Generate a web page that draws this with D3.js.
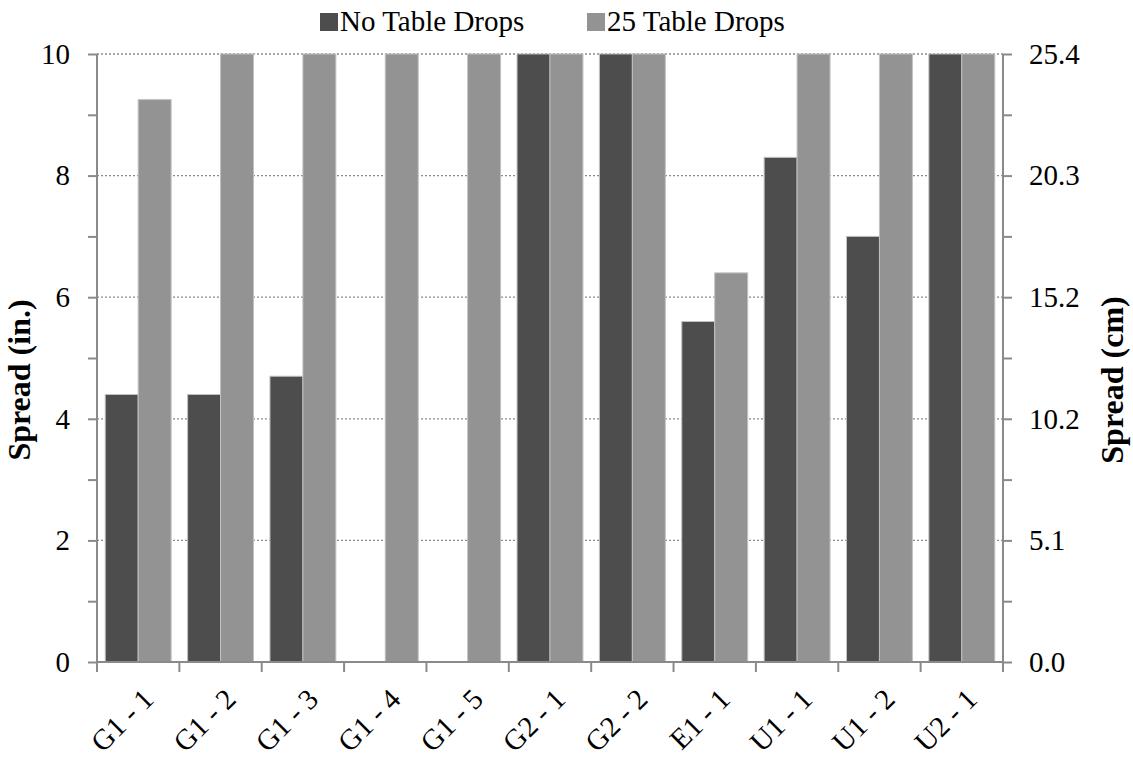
<!DOCTYPE html>
<html>
<head>
<meta charset="utf-8">
<script src="https://cdn.jsdelivr.net/npm/d3@7/dist/d3.min.js"></script>
<style>
  body { margin: 0; background: #fff; }
</style>
</head>
<body>
<svg id="chart" width="1133" height="759"></svg>
<script>
const categories = ["G1 - 1", "G1 - 2", "G1 - 3", "G1 - 4", "G1 - 5", "G2 - 1", "G2 - 2", "E1 - 1", "U1 - 1", "U1 - 2", "U2 - 1"];
const seriesNames = ["No Table Drops", "25 Table Drops"];
const noDrops = [4.4, 4.4, 4.7, 0, 0, 10, 10, 5.6, 8.3, 7.0, 10];
const drops25 = [9.25, 10, 10, 10, 10, 10, 10, 6.4, 10, 10, 10];
const leftTicks = [0, 2, 4, 6, 8, 10];
const rightTickLabels = ["0.0", "5.1", "10.2", "15.2", "20.3", "25.4"];
const minorTicks = [1, 3, 5, 7, 9];

(function () {
const colors = ["#4d4d4d", "#939393"];
const fs = "29px";
const ff = "Liberation Serif";
const svg = d3.select("#chart");
const pLeft = 97, pRight = 1003, pTop = 54, pBottom = 662;

const x = d3.scaleBand().domain(categories).range([pLeft, pRight]).paddingInner(0.2).paddingOuter(0.1);
const x1 = d3.scaleBand().domain(seriesNames).range([0, x.bandwidth()]);
const y = d3.scaleLinear().domain([0, 10]).range([pBottom, pTop]);

// gridlines
svg.append("g").selectAll("line").data(leftTicks.filter(d => d > 0)).join("line")
  .attr("x1", pLeft).attr("x2", pRight)
  .attr("y1", d => y(d)).attr("y2", d => y(d))
  .attr("stroke", "#8c8c8c").attr("stroke-width", 1.3).attr("stroke-dasharray", "2,2");

// bars
const series = [noDrops, drops25];
const g = svg.append("g");
series.forEach((vals, si) => {
  g.selectAll(null).data(categories.map((c, i) => ({c, v: vals[i]})).filter(d => d.v > 0)).join("rect")
    .attr("x", d => x(d.c) + x1(seriesNames[si]))
    .attr("y", d => y(d.v))
    .attr("width", x1.bandwidth())
    .attr("height", d => y(0) - y(d.v))
    .attr("fill", colors[si])
    .attr("stroke", "#c0c0c0").attr("stroke-width", 1);
});

const axisColor = "#8a8a8a";
// left axis
svg.append("g").attr("transform", `translate(${pLeft},0)`)
  .call(d3.axisLeft(y).tickValues(leftTicks).tickSize(9).tickPadding(18).tickFormat(d3.format("d")));
svg.append("g").attr("transform", `translate(${pLeft},0)`)
  .call(d3.axisLeft(y).tickValues(minorTicks).tickSize(9).tickFormat(""));
// right axis
svg.append("g").attr("transform", `translate(${pRight},0)`)
  .call(d3.axisRight(y).tickValues(leftTicks).tickSize(9).tickPadding(17).tickFormat((d, i) => rightTickLabels[i]));
svg.append("g").attr("transform", `translate(${pRight},0)`)
  .call(d3.axisRight(y).tickValues(minorTicks).tickSize(9).tickFormat(""));
svg.selectAll(".domain").remove();

// x axis
const xAxisG = svg.append("g").attr("transform", `translate(0,${pBottom})`);
const boundaries = categories.map(c => x(c) - x.step() * x.paddingInner() / 2).concat([pRight]);
xAxisG.selectAll(".bt").data(boundaries).join("line")
  .attr("x1", d => d).attr("x2", d => d).attr("y1", 0).attr("y2", 10)
  .attr("stroke", axisColor).attr("stroke-width", 2);
xAxisG.selectAll(".xl").data(categories).join("text")
  .attr("class", "xl")
  .attr("transform", d => `translate(${x(d) + x.bandwidth() / 2 + 17},${39}) rotate(-45)`)
  .attr("text-anchor", "end")
  .text(d => d);

svg.selectAll(".tick line").attr("stroke", axisColor).attr("stroke-width", 2);
svg.append("line").attr("x1", pLeft).attr("x2", pRight).attr("y1", pBottom).attr("y2", pBottom).attr("stroke", axisColor).attr("stroke-width", 2);
svg.append("line").attr("x1", pLeft).attr("x2", pLeft).attr("y1", pTop).attr("y2", pBottom).attr("stroke", axisColor).attr("stroke-width", 2);
svg.append("line").attr("x1", pRight).attr("x2", pRight).attr("y1", pTop).attr("y2", pBottom).attr("stroke", axisColor).attr("stroke-width", 2);

// legend
const legendX = [320, 587];
seriesNames.forEach((s, i) => {
  const lg = svg.append("g").attr("transform", `translate(${legendX[i]},0)`);
  lg.append("rect").attr("x", 0).attr("y", 13).attr("width", 18).attr("height", 18).attr("fill", colors[i]);
  lg.append("text").attr("x", 20).attr("y", 31).text(s);
});

svg.selectAll("text").style("font-family", ff).style("font-size", fs).attr("fill", "#000");

// axis titles
svg.append("text").attr("transform", `translate(30,380) rotate(-90)`)
  .attr("text-anchor", "middle").text("Spread (in.)");
svg.append("text").attr("transform", `translate(1123,380) rotate(-90)`)
  .attr("text-anchor", "middle").text("Spread (cm)");
svg.selectAll("text:not(.done)").filter(function () { return this.textContent.startsWith("Spread"); })
  .style("font-family", ff).style("font-size", "32px").style("font-weight", "bold").attr("fill", "#000");
})();
</script>
</body>
</html>
